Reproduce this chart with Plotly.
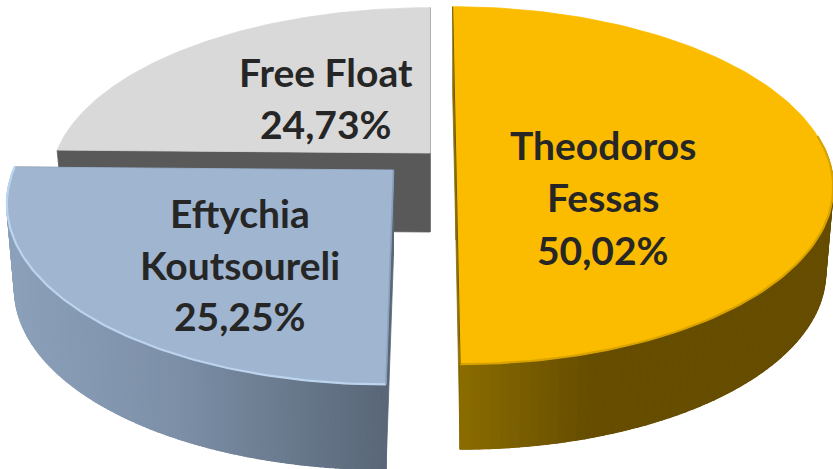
import math
import plotly.graph_objects as go

# ---- data -------------------------------------------------------------
shareholders = ["Theodoros Fessas", "Eftychia Koutsoureli", "Free Float"]
shares = [50.02, 25.25, 24.73]

# ---- layout / style of each exploded slice ----------------------------
WIDTH, HEIGHT = 833, 469
PERSPECTIVE = 0.17
BOTTOM_SCALE = 0.98
apex_x = [456, 393.5, 430]
apex_y = [155, 170, 153]
radius_x = [371, 380, 374]
radius_y = [173.5, 178, 170]
shear = [0.0225, -0.0325, 0.0]
depth = [85, 85, 79]
top_colors = ["#fbbc00", "#9fb5d0", "#d9d9d9"]
rim_colors = ["#d8a300", "#bdd4ef", "#cfcfcf"]
side_stops = [
    [(460, (138, 108, 0)), (590, (102, 77, 0)), (833, (102, 77, 0))],
    [(10, (140, 160, 186)), (170, (125, 144, 168)), (390, (88, 102, 118))],
    [(0, (89, 89, 89)), (833, (89, 89, 89))],
]
label_x = [603, 240, 326]
label_lines = [
    [("Theodoros", 145), ("Fessas", 197), ("50,02%", 250)],
    [("Eftychia", 213), ("Koutsoureli", 265), ("25,25%", 316)],
    [("Free Float", 72), ("24,73%", 124)],
]
FONT = dict(family="Lato, Carlito, 'Open Sans', sans-serif", size=39, color="#262626")


def project(i, theta, drop=0.0):
    """Clockwise angle from the top of the pie -> picture position."""
    u, v = math.sin(theta), math.cos(theta)
    s = 1 / (1 + PERSPECTIVE * v)
    scale = BOTTOM_SCALE if drop else 1.0
    y_rel = -radius_y[i] * v * s
    x = apex_x[i] + radius_x[i] * u * s * scale + shear[i] * y_rel
    return x, apex_y[i] + y_rel + drop


def side_color(i, x):
    stops = side_stops[i]
    if x <= stops[0][0]:
        c = stops[0][1]
    elif x >= stops[-1][0]:
        c = stops[-1][1]
    else:
        for (x0, c0), (x1, c1) in zip(stops, stops[1:]):
            if x0 <= x <= x1:
                t = (x - x0) / (x1 - x0)
                c = tuple(a + (b - a) * t for a, b in zip(c0, c1))
                break
    return "rgb(%d,%d,%d)" % tuple(round(a) for a in c)


def poly(xs, ys, color, width=0.8):
    return go.Scatter(x=xs, y=ys, mode="lines", fill="toself", fillcolor=color,
                      line=dict(color=color, width=width),
                      hoverinfo="skip", showlegend=False)


total = sum(shares)
bounds = []
a = 0.0
for value in shares:
    bounds.append((a, a + value / total * 2 * math.pi))
    a = bounds[-1][1]

fig = go.Figure()
for i in [2, 0, 1]:  # back slice first
    t0, t1 = bounds[i]
    n = 140
    thetas = [t0 + (t1 - t0) * k / n for k in range(n + 1)]
    ax, ay = apex_x[i], apex_y[i]
    d = depth[i]

    # flat cut wall facing the viewer
    for t in (t0, t1):
        px, py = project(i, t)
        qx, qy = project(i, t, d)
        wall = side_color(i, px) if i == 2 else side_color(i, ax)
        fig.add_trace(poly([ax, px, qx, ax, ax], [ay, py, qy, ay + d, ay], wall))

    # outer curved wall: only the part turned to the viewer
    front = [t for t in thetas if math.cos(t) < 0.05]
    if i != 2 and front:
        top = [project(i, t) for t in front]
        low = [project(i, t, d) for t in front]
        # solid underlay keeps the seams between strips closed
        fig.add_trace(poly([p[0] for p in top] + [p[0] for p in low[::-1]],
                           [p[1] for p in top] + [p[1] for p in low[::-1]],
                           side_color(i, sum(p[0] for p in top) / len(top))))
        for k in range(len(front) - 1):
            fig.add_trace(poly([top[k][0], top[k + 1][0], low[k + 1][0], low[k][0], top[k][0]],
                               [top[k][1], top[k + 1][1], low[k + 1][1], low[k][1], top[k][1]],
                               side_color(i, (top[k][0] + top[k + 1][0]) / 2), width=1.4))

    # top face
    pts = [project(i, t) for t in thetas]
    xs = [ax] + [p[0] for p in pts] + [ax]
    ys = [ay] + [p[1] for p in pts] + [ay]
    fig.add_trace(poly(xs, ys, top_colors[i]))

    # rim highlight on the front of the arc
    rim = [p for p, t in zip(pts, thetas) if math.cos(t) < 0.12]
    if i != 2:
        fig.add_trace(go.Scatter(x=[p[0] for p in rim], y=[p[1] for p in rim],
                                 mode="lines", hoverinfo="skip", showlegend=False,
                                 line=dict(color=rim_colors[i], width=2.2)))

# thin dark sliver of the cut edges
p_front = project(0, bounds[0][1])
p_back = project(0, bounds[0][0])
fig.add_trace(go.Scatter(x=[p_back[0], p_front[0]], y=[p_back[1], p_front[1]],
                         mode="lines", hoverinfo="skip", showlegend=False,
                         line=dict(color="#6b5a10", width=1.0)))
p_front = project(1, bounds[1][0])
fig.add_trace(go.Scatter(x=[apex_x[1], p_front[0]], y=[apex_y[1], p_front[1]],
                         mode="lines", hoverinfo="skip", showlegend=False,
                         line=dict(color="#8aa0b8", width=1.6)))

annotations = []
for x, lines in zip(label_x, label_lines):
    for text, y in lines:
        annotations.append(dict(x=x, y=y, xref="x", yref="y", text="<b>%s</b>" % text,
                                showarrow=False, font=FONT, xanchor="center",
                                yanchor="middle", borderpad=0))

fig.update_layout(
    width=WIDTH, height=HEIGHT, margin=dict(l=0, r=0, t=0, b=0),
    paper_bgcolor="white", plot_bgcolor="white", showlegend=False,
    xaxis=dict(range=[0, WIDTH], visible=False, fixedrange=True),
    yaxis=dict(range=[HEIGHT, 0], visible=False, fixedrange=True),
    annotations=annotations,
)
fig.write_html("out.html", config=dict(displayModeBar=False),
               post_script="document.body.style.margin='0';document.body.style.overflow='hidden';")
